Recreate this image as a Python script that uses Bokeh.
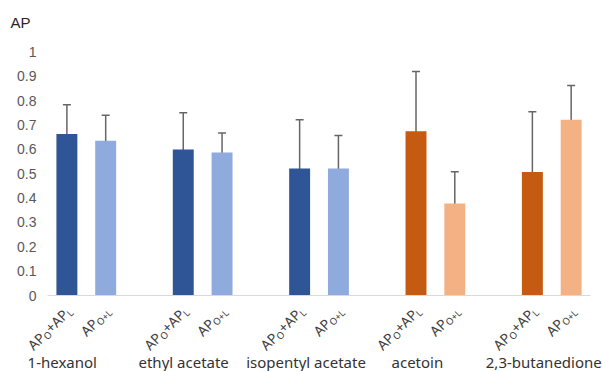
import math
from bokeh.plotting import figure
from bokeh.models import (ColumnDataSource, Range1d, FixedTicker, CustomJSTickFormatter,
                          Whisker, TeeHead)
from bokeh.core.properties import value
from bokeh.embed import file_html
from bokeh.resources import INLINE

# ---------------- data ----------------
compounds = ["1-hexanol", "ethyl acetate", "isopentyl acetate", "acetoin", "2,3-butanedione"]
# AP_O + AP_L (sum of single-odorant AP values)
sum_vals = [0.663, 0.600, 0.522, 0.675, 0.507]
sum_err = [0.120, 0.150, 0.200, 0.245, 0.248]
# AP_O+L (mixture AP values)
mix_vals = [0.635, 0.587, 0.522, 0.378, 0.722]
mix_err = [0.105, 0.080, 0.135, 0.130, 0.140]
yticks = [0, 0.1, 0.2, 0.3, 0.4, 0.5, 0.6, 0.7, 0.8, 0.9, 1.0]
# bar tick labels: pieces of (text, is_subscript)
sum_label = [("AP", False), ("O", True), ("+AP", False), ("L", True)]
mix_label = [("AP", False), ("O+L", True)]

# ---------------- styling ----------------
DARK = {"blue": "#2F5597", "orange": "#C55A11"}
LIGHT = {"blue": "#8FAADC", "orange": "#F4B183"}
family = ["blue", "blue", "blue", "orange", "orange"]
group_label_nudge = [-24, -19, -13, -18, -8]   # px, horizontal placement of compound names
SLOTS = 3  # two bars + one blank slot per compound
n_slots = SLOTS * len(compounds) - 1
BAR_W = 0.54
SLOT_PX = 38.79

p = figure(width=602, height=371, output_backend="svg", toolbar_location=None,
           x_range=Range1d(-47 / SLOT_PX, 555 / SLOT_PX), y_range=Range1d(-0.3121, 1.0472),
           x_axis_location=None, min_border_left=0, min_border_right=0,
           min_border_top=40, min_border_bottom=0)
p.outline_line_color = None
p.grid.visible = False
p.background_fill_color = "white"
p.border_fill_color = "white"

p.title.text = "AP"
p.title.text_font = "Liberation Sans"
p.title.text_font_size = "15px"
p.title.text_font_style = "normal"
p.title.text_color = "#262626"
p.title.align = "left"
p.title.offset = 10
p.title.standoff = 19

ax = p.yaxis[0]
ax.fixed_location = 0
ax.ticker = FixedTicker(ticks=yticks)
ax.formatter = CustomJSTickFormatter(code="return String(Math.round(tick*10)/10);")
ax.axis_line_color = None
ax.major_tick_line_color = None
ax.minor_tick_line_color = None
ax.major_tick_out = 0
ax.major_tick_in = 0
ax.major_label_standoff = 11
ax.major_label_text_font = "Liberation Sans"
ax.major_label_text_font_size = "14px"
ax.major_label_text_color = "#595959"

# bars
xs, tops, errs, colors = [], [], [], []
for g in range(len(compounds)):
    xs += [g * SLOTS + 0.5, g * SLOTS + 1.5]
    tops += [sum_vals[g], mix_vals[g]]
    errs += [sum_err[g], mix_err[g]]
    colors += [DARK[family[g]], LIGHT[family[g]]]
src = ColumnDataSource(dict(x=xs, top=tops, color=colors,
                            upper=[t + e for t, e in zip(tops, errs)],
                            lower=[t - e for t, e in zip(tops, errs)]))
p.vbar(x="x", top="top", bottom=0, width=BAR_W, fill_color="color", line_color=None, source=src)

# baseline (category axis line)
p.segment(x0=[0], y0=[0], x1=[n_slots], y1=[0], line_color="#D9D9D9", line_width=1)

# error bars
EC = "#666666"
w = Whisker(source=src, base="x", upper="upper", lower="lower",
            line_color=EC, line_width=1.5,
            upper_head=TeeHead(size=8, line_color=EC, line_width=1.5),
            lower_head=TeeHead(size=8, line_color=EC, line_width=1.5))
p.add_layout(w)

# rotated bar labels with subscripts (screen-pixel layout along a 45 degree baseline)
MAIN, SUB = 14.0, 9.5
WID = {"A": 0.639, "P": 0.602, "O": 0.779, "+": 0.572, "L": 0.519}
c45 = math.cos(math.pi / 4)
SUB_DROP = 4.0
END = (2.0, 13.0)  # end of label baseline relative to tick (px, x right / y down)
lx, lox, loy, ltxt, lsize = [], [], [], [], []
for i, x in enumerate(xs):
    pieces = sum_label if i % 2 == 0 else mix_label
    widths = [sum(WID[ch] for ch in t) * (SUB if s else MAIN) for t, s in pieces]
    total = sum(widths)
    cum = 0.0
    for (t, s), wd in zip(pieces, widths):
        rem = total - cum
        dx = END[0] - rem * c45 + (SUB_DROP * c45 if s else 0)
        dy_down = END[1] + rem * c45 + (SUB_DROP * c45 if s else 0)
        lx.append(x); lox.append(dx); loy.append(dy_down); ltxt.append(t)
        lsize.append("%.1fpx" % (SUB if s else MAIN))
        cum += wd
lsrc = ColumnDataSource(dict(x=lx, y=[0] * len(lx), xo=lox, yo=loy, text=ltxt, size=lsize))
p.text(x="x", y="y", text="text", x_offset="xo", y_offset="yo",
       angle=math.pi / 4, text_font=value("Noto Sans"), text_font_size="size",
       text_color="#404040", text_align="left", text_baseline="alphabetic", source=lsrc)

# compound (group) labels
gsrc = ColumnDataSource(dict(x=[g * SLOTS + 1.0 for g in range(len(compounds))],
                             y=[0] * len(compounds), text=compounds, xo=group_label_nudge))
p.text(x="x", y="y", text="text", x_offset="xo", y_offset=66,
       text_font=value("Noto Sans"), text_font_size="15px", text_color="#333333",
       text_align="center", text_baseline="alphabetic", source=gsrc)

open("out.html", "w").write(file_html(p, INLINE))
